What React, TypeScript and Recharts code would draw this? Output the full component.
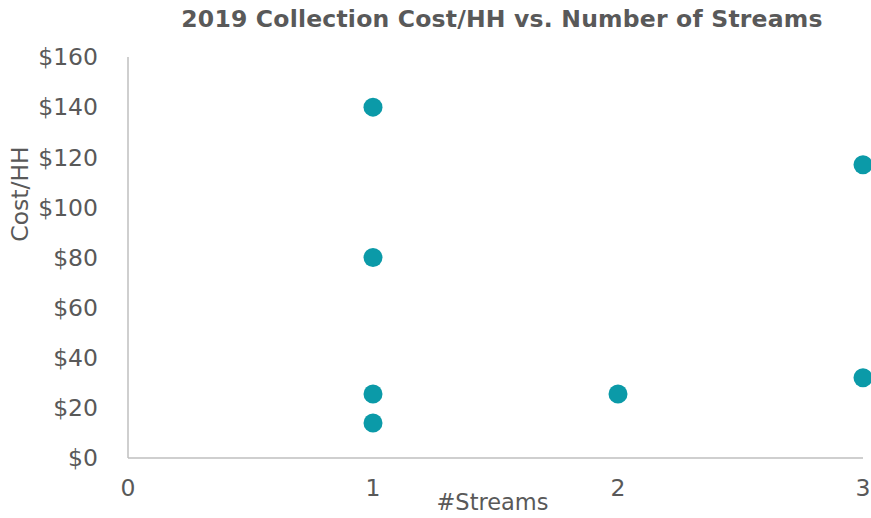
import React from 'react';
import { ScatterChart, Scatter, XAxis, YAxis, Label } from 'recharts';

const streams = [1, 1, 1, 1, 2, 3, 3];
const costPerHH = [140, 80, 25.5, 14, 25.5, 117, 32];
const xTicks = [0, 1, 2, 3];
const yTicks = [0, 20, 40, 60, 80, 100, 120, 140, 160];

const points = streams.map((s, i) => ({ streams: s, cost: costPerHH[i] }));

const FONT = '"DejaVu Sans", Verdana, sans-serif';
const TEXT = '#595959';
const AXIS = '#BFBFBF';
const DOT = '#0B9AA8';

const Dot = (props: any) => <circle cx={props.cx} cy={props.cy} r={9.5} fill={DOT} />;

export default function App() {
  return (
    <div style={{ position: 'absolute', left: 0, top: 0, width: 871, height: 518, background: '#fff', fontFamily: FONT }}>
      <div
        style={{
          position: 'absolute',
          top: 5,
          left: 0,
          width: 871,
          paddingLeft: 133,
          boxSizing: 'border-box',
          textAlign: 'center',
          fontWeight: 'bold',
          fontSize: 23.5,
          letterSpacing: 0.2,
          color: TEXT,
        }}
      >
        2019 Collection Cost/HH vs. Number of Streams
      </div>
      <ScatterChart width={871} height={518} margin={{ top: 57, right: 8, bottom: 0, left: 0 }}>
        <XAxis
          type="number"
          dataKey="streams"
          domain={[0, 3]}
          ticks={xTicks}
          height={60}
          stroke={AXIS}
          strokeWidth={1.5}
          tickLine={false}
          tickSize={0}
          tickMargin={21}
          tick={{ fill: TEXT, fontSize: 23.5, fontFamily: FONT }}
        >
          <Label
            content={(p: any) => (
              <text
                x={p.viewBox.x + p.viewBox.width / 2 - 3}
                y={p.viewBox.y + 52}
                textAnchor="middle"
                fill={TEXT}
                fontSize={22.5}
                fontFamily={FONT}
              >
                #Streams
              </text>
            )}
          />
        </XAxis>
        <YAxis
          type="number"
          dataKey="cost"
          domain={[0, 160]}
          ticks={yTicks}
          width={128}
          stroke={AXIS}
          strokeWidth={1.5}
          tickLine={false}
          tickSize={0}
          tickMargin={30}
          tickFormatter={(v: number) => `$${v}`}
          tick={{ fill: TEXT, fontSize: 23.5, fontFamily: FONT }}
        >
          <Label
            content={() => (
              <text
                x={28}
                y={194}
                transform="rotate(-90 28 194)"
                textAnchor="middle"
                fill={TEXT}
                fontSize={23.5}
                fontFamily={FONT}
              >
                Cost/HH
              </text>
            )}
          />
        </YAxis>
        <Scatter data={points} fill={DOT} shape={Dot} isAnimationActive={false} />
      </ScatterChart>
    </div>
  );
}
